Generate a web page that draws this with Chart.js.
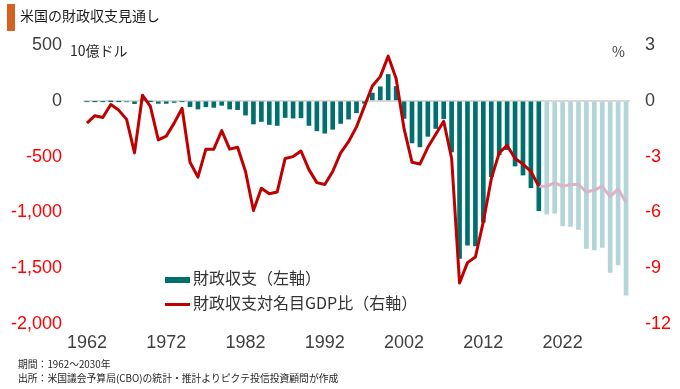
<!DOCTYPE html>
<html><head><meta charset="utf-8">
<script src="https://cdn.jsdelivr.net/npm/chart.js@4/dist/chart.umd.min.js"></script>
<style>
html,body{margin:0;padding:0;background:#fff;width:680px;height:389px;overflow:hidden;}
#wrap{position:relative;width:680px;height:389px;font-family:"Noto Sans CJK JP","Liberation Sans",sans-serif;color:#262626;}
canvas{position:absolute;left:0;top:0;}
.abs{position:absolute;white-space:nowrap;}
#bar{left:7px;top:4px;width:8px;height:27px;background:#D5601F;}
#title{left:20px;top:5px;font-size:14px;line-height:20px;color:#1a1a1a;}
#unitL{left:70px;top:40px;font-size:14px;line-height:20px;color:#262626;}
#unitR{left:612px;top:41px;font-size:14px;line-height:20px;color:#404040;}
.leg{left:165px;font-size:16px;line-height:22px;color:#333333;}
.sw{display:inline-block;width:25px;vertical-align:middle;margin-right:3px;}
.foot{left:18px;font-size:9.8px;line-height:14px;color:#262626;}
</style></head>
<body><div id="wrap">
<canvas id="c" width="680" height="389"></canvas>
<div class="abs" id="bar"></div>
<div class="abs" id="title">米国の財政収支見通し</div>
<div class="abs" id="unitL">10億ドル</div>
<div class="abs" id="unitR">%</div>
<div class="abs leg" style="top:266px"><span class="sw" style="height:6px;background:#00706E"></span>財政収支（左軸）</div>
<div class="abs leg" style="top:291px"><span class="sw" style="height:3px;background:#C00000"></span>財政収支対名目GDP比（右軸）</div>
<div class="abs foot" style="top:357px">期間：1962～2030年</div>
<div class="abs foot" style="top:371px">出所：米国議会予算局(CBO)の統計・推計よりピクテ投信投資顧問が作成</div>
</div>
<script>
const years = ["1962","1963","1964","1965","1966","1967","1968","1969","1970","1971","1972","1973","1974","1975","1976","1977","1978","1979","1980","1981","1982","1983","1984","1985","1986","1987","1988","1989","1990","1991","1992","1993","1994","1995","1996","1997","1998","1999","2000","2001","2002","2003","2004","2005","2006","2007","2008","2009","2010","2011","2012","2013","2014","2015","2016","2017","2018","2019","2020","2021","2022","2023","2024","2025","2026","2027","2028","2029","2030"];
const xTickLabels = ["1962","1972","1982","1992","2002","2012","2022"];
const balanceActual = [-7.1,-4.8,-5.9,-1.4,-3.7,-8.6,-25.2,3.2,-2.8,-23.0,-23.4,-14.9,-6.1,-53.2,-73.7,-53.7,-59.2,-40.7,-73.8,-79.0,-128.0,-207.8,-185.4,-212.3,-221.2,-149.7,-155.2,-152.6,-221.0,-269.2,-290.3,-255.1,-203.2,-164.0,-107.4,-21.9,69.3,125.6,236.2,128.2,-157.8,-377.6,-412.7,-318.3,-248.2,-160.7,-458.6,-1412.7,-1294.4,-1299.6,-1087.0,-679.5,-484.6,-438.5,-584.7,-665.4,-779.1,-984.4];
const balanceProjected = [-1015,-1008,-1120,-1126,-1152,-1323,-1336,-1314,-1538,-1471,-1742];
const ratioActual = [-1.2,-0.8,-0.9,-0.2,-0.5,-1.0,-2.8,0.3,-0.3,-2.1,-1.9,-1.2,-0.4,-3.3,-4.1,-2.6,-2.6,-1.6,-2.6,-2.5,-3.8,-5.9,-4.7,-5.0,-4.9,-3.1,-3.0,-2.7,-3.7,-4.4,-4.5,-3.8,-2.8,-2.2,-1.4,-0.3,0.8,1.3,2.4,1.2,-1.5,-3.3,-3.4,-2.5,-1.8,-1.1,-3.1,-9.8,-8.7,-8.4,-6.5,-4.2,-2.8,-2.4,-3.1,-3.4,-3.8,-4.6];
const ratioProjected = [-4.6,-4.4,-4.6,-4.5,-4.5,-4.9,-4.8,-4.6,-5.15,-4.75,-5.45];
const leftTicks = [500,0,-500,-1000,-1500,-2000];
const rightTicks = [3,0,-3,-6,-9,-12];

const nA = balanceActual.length;
const barData = balanceActual.concat(balanceProjected);
const barColors = barData.map((v,i)=> i < nA ? '#00706E' : '#B3D5D7');
const redData = ratioActual.concat(balanceProjected.map(()=>null));
const pinkData = ratioActual.map((v,i)=> i === nA-1 ? v : null).concat(ratioProjected);

const tickColor = ctx => (ctx.tick && ctx.tick.value < 0) ? '#FF0000' : '#404040';
const tickFont = {family:'"Liberation Sans", Arial, sans-serif', size:18};

new Chart(document.getElementById('c'), {
  data: {
    labels: years,
    datasets: [
      {type:'line', data: redData, yAxisID:'yR', borderColor:'#C00000', borderWidth:3, pointRadius:0, tension:0, spanGaps:false, borderJoinStyle:'round', order:0},
      {type:'line', data: pinkData, yAxisID:'yR', borderColor:'#D9B3C6', borderWidth:3, pointRadius:0, tension:0, spanGaps:false, borderJoinStyle:'round', order:1},
      {type:'bar', data: barData, yAxisID:'yL', backgroundColor: barColors, barThickness:4, order:2}
    ]
  },
  options: {
    responsive:false, animation:false, devicePixelRatio:1,
    layout:{padding:{left:0,right:0,top:45,bottom:35}},
    plugins:{legend:{display:false}, tooltip:{enabled:false}},
    scales:{
      x:{
        grid:{display:false, drawTicks:false}, border:{display:false},
        ticks:{autoSkip:false, maxRotation:0, padding:8, color:'#404040', font:tickFont,
          callback:function(v){const l=this.getLabelForValue(v); return xTickLabels.includes(l)?l:'';}},
        afterFit: s => { s.height = 30; }
      },
      yL:{
        position:'left', min:-2000, max:500,
        afterBuildTicks: s => { s.ticks = leftTicks.map(v=>({value:v})); },
        grid:{drawTicks:false, color: ctx => ctx.tick && ctx.tick.value===0 ? '#D9D9D9' : 'rgba(0,0,0,0)', lineWidth:2},
        border:{display:false},
        ticks:{padding:21, color:tickColor, font:tickFont, callback:v=>v.toLocaleString('en-US')},
        afterFit: s => { s.width = 83; }
      },
      yR:{
        position:'right', min:-12, max:3,
        afterBuildTicks: s => { s.ticks = rightTicks.map(v=>({value:v})); },
        grid:{display:false, drawTicks:false}, border:{display:false},
        ticks:{padding:15, color:tickColor, font:tickFont},
        afterFit: s => { s.width = 50; }
      }
    }
  }
});
</script>
</body></html>
